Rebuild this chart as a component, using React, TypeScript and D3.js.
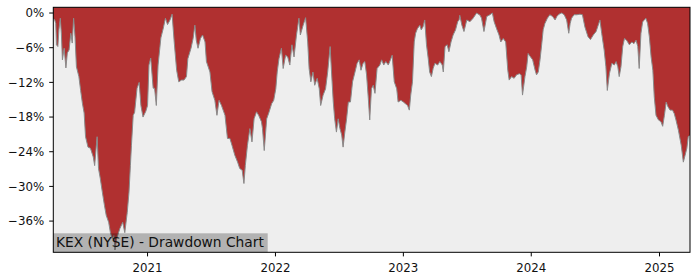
import React from "react";
import * as d3 from "d3";

const dates: string[] = [
  "2020-04-07","2020-04-11","2020-04-14","2020-04-16","2020-04-20","2020-04-23","2020-04-27","2020-04-30",
  "2020-05-03","2020-05-08","2020-05-13","2020-05-17","2020-05-22","2020-05-27","2020-05-31","2020-06-04",
  "2020-06-08","2020-06-12","2020-06-19","2020-06-24","2020-06-29","2020-07-04","2020-07-08","2020-07-15",
  "2020-07-22","2020-07-30","2020-08-03","2020-08-10","2020-08-14","2020-08-19","2020-08-25","2020-08-31",
  "2020-09-05","2020-09-12","2020-09-17","2020-09-22","2020-09-27","2020-09-30","2020-10-05","2020-10-14",
  "2020-10-22","2020-10-28","2020-11-04","2020-11-09","2020-11-13","2020-11-16","2020-11-21","2020-11-25",
  "2020-12-02","2020-12-08","2020-12-13","2020-12-19","2020-12-27",
  "2021-01-01","2021-01-05","2021-01-10","2021-01-17","2021-01-21","2021-01-26","2021-01-31","2021-02-08",
  "2021-02-15","2021-02-21","2021-02-27","2021-03-06","2021-03-12","2021-03-18","2021-03-25","2021-03-31",
  "2021-04-08","2021-04-15","2021-04-22","2021-04-26","2021-05-05","2021-05-11","2021-05-16","2021-05-20",
  "2021-05-25","2021-06-01","2021-06-07","2021-06-14","2021-06-18","2021-06-28","2021-07-04","2021-07-12",
  "2021-07-18","2021-07-24","2021-07-31","2021-08-10","2021-08-17","2021-08-24","2021-08-30","2021-09-07",
  "2021-09-15","2021-09-21","2021-09-28","2021-10-03","2021-10-07","2021-10-13","2021-10-20","2021-10-26",
  "2021-11-01","2021-11-08","2021-11-14","2021-11-22","2021-11-25","2021-11-30","2021-12-07","2021-12-14",
  "2021-12-21","2021-12-27",
  "2022-01-02","2022-01-06","2022-01-11","2022-01-18","2022-01-23","2022-01-30","2022-02-05","2022-02-11",
  "2022-02-17","2022-02-23","2022-03-02","2022-03-09","2022-03-13","2022-03-21","2022-03-28","2022-04-03",
  "2022-04-07","2022-04-12","2022-04-18","2022-04-23","2022-04-30","2022-05-06","2022-05-10","2022-05-17",
  "2022-05-24","2022-05-30","2022-06-06","2022-06-10","2022-06-15","2022-06-19","2022-06-24","2022-06-29",
  "2022-07-04","2022-07-09","2022-07-13","2022-07-18","2022-07-23","2022-07-28","2022-08-03","2022-08-09",
  "2022-08-16","2022-08-22","2022-08-28","2022-09-02","2022-09-08","2022-09-13","2022-09-18","2022-09-23",
  "2022-09-27","2022-10-02","2022-10-07","2022-10-12","2022-10-18","2022-10-26","2022-10-31","2022-11-06",
  "2022-11-12","2022-11-19","2022-11-25","2022-11-30","2022-12-06","2022-12-13","2022-12-17","2022-12-25",
  "2023-01-01","2023-01-07","2023-01-13","2023-01-18","2023-01-22","2023-01-27","2023-02-01","2023-02-05",
  "2023-02-10","2023-02-17","2023-02-21","2023-02-26","2023-03-03","2023-03-08","2023-03-13","2023-03-17",
  "2023-03-22","2023-03-27","2023-04-01","2023-04-09","2023-04-15","2023-04-22","2023-04-25","2023-04-30",
  "2023-05-06","2023-05-11","2023-05-17","2023-05-23","2023-05-30","2023-06-05","2023-06-09","2023-06-11",
  "2023-06-17","2023-06-23","2023-07-01","2023-07-10","2023-07-19","2023-07-29","2023-08-08","2023-08-12",
  "2023-08-19","2023-08-27","2023-09-05","2023-09-12","2023-09-17","2023-09-24","2023-10-01","2023-10-06",
  "2023-10-13","2023-10-20","2023-10-26","2023-10-30","2023-11-06","2023-11-13","2023-11-20","2023-11-28",
  "2023-12-03","2023-12-07","2023-12-14","2023-12-19","2023-12-23","2023-12-30",
  "2024-01-05","2024-01-12","2024-01-16","2024-01-21","2024-01-26","2024-01-31","2024-02-04","2024-02-09",
  "2024-02-16","2024-02-23","2024-03-02","2024-03-09","2024-03-14","2024-03-20","2024-03-28","2024-04-04",
  "2024-04-11","2024-04-17","2024-04-21","2024-04-25","2024-05-02","2024-05-10","2024-05-19","2024-05-26",
  "2024-06-02","2024-06-11","2024-06-18","2024-06-26","2024-07-04","2024-07-10","2024-07-15","2024-07-20",
  "2024-07-27","2024-08-01","2024-08-05","2024-08-11","2024-08-18","2024-08-25","2024-08-30","2024-09-04",
  "2024-09-08","2024-09-13","2024-09-18","2024-09-23","2024-09-29","2024-10-07","2024-10-14","2024-10-20",
  "2024-10-26","2024-10-31","2024-11-04","2024-11-09","2024-11-14","2024-11-19","2024-11-23","2024-11-28",
  "2024-12-03","2024-12-08","2024-12-13","2024-12-17","2024-12-22","2024-12-29",
  "2025-01-05","2025-01-10","2025-01-15","2025-01-20","2025-01-25","2025-01-31","2025-02-07","2025-02-12",
  "2025-02-17","2025-02-24","2025-03-04","2025-03-10","2025-03-15","2025-03-20","2025-03-24","2025-03-29"
];

const drawdown: number[] = [
  -0.9,-1.2,-1.8,-5.5,-5.8,-2.9,-0.9,-3.5,
  -8.1,-6.1,-9.5,-6.9,-6.4,-3.5,-5.2,-0.9,
  -4.1,-9.3,-11.0,-13.4,-15.6,-17.3,-21.4,-23.2,
  -23.4,-24.9,-26.4,-21.4,-26.9,-28.6,-31.0,-33.3,
  -35.0,-36.2,-38.0,-39.0,-38.5,-41.0,-39.0,-37.3,
  -36.2,-38.0,-34.5,-31.0,-26.4,-22.9,-17.7,-17.2,
  -13.0,-12.0,-16.0,-18.0,-17.0,
  -16.0,-9.0,-7.8,-13.0,-13.0,-16.0,-9.0,-4.3,
  -2.6,-0.9,-2.0,-1.2,-0.2,-5.0,-9.9,-11.9,
  -11.6,-11.6,-11.0,-7.9,-6.1,-4.4,-2.1,-4.7,
  -6.1,-4.4,-3.8,-5.0,-8.4,-10.2,-13.6,-15.1,
  -17.7,-15.1,-16.0,-17.7,-21.7,-21.7,-22.9,-24.6,
  -25.8,-26.9,-27.2,-29.5,-26.4,-22.9,-20.0,-22.3,
  -18.3,-17.1,-17.7,-18.8,-20.0,-23.8,-18.3,-17.1,
  -15.7,-15.1,
  -13.1,-10.2,-7.9,-6.1,-9.6,-7.3,-7.6,-9.0,
  -5.5,-7.6,-3.8,-0.9,-3.8,-2.1,-0.8,-5.0,
  -9.6,-11.9,-10.2,-12.5,-11.3,-13.1,-16.0,-14.2,
  -13.1,-10.2,-5.8,-10.2,-15.4,-18.3,-20.6,-18.3,
  -20.0,-21.1,-23.2,-20.6,-18.3,-15.4,-15.4,-11.9,
  -10.2,-8.7,-8.1,-9.9,-8.7,-8.4,-10.7,-14.8,
  -18.5,-13.1,-12.5,-13.9,-9.6,-9.0,-8.1,-9.0,
  -8.4,-9.0,-8.1,-7.3,-11.9,-13.1,-15.4,-15.1,
  -15.4,-15.7,-16.0,-16.8,-14.2,-11.9,-5.0,-3.5,
  -2.7,-2.1,-2.9,-2.4,-1.2,-5.5,-7.9,-10.2,
  -11.0,-9.6,-8.7,-9.0,-8.4,-9.0,-10.2,-5.8,
  -5.5,-6.7,-5.0,-3.8,-2.9,-1.5,-1.2,-0.4,
  -2.1,-3.2,-1.2,-1.5,-0.9,0.0,-0.4,-0.9,
  -3.2,-0.6,-0.3,0.0,-1.5,-2.7,-3.8,-5.0,
  -4.4,-5.0,-9.9,-11.6,-11.0,-11.3,-10.7,-10.5,
  -10.7,-14.2,-11.0,-9.3,-7.0,-7.6,
  -8.1,-9.9,-10.7,-10.2,-8.1,-5.3,-2.9,-1.8,
  -0.9,-0.3,-0.6,-1.2,-0.6,-0.2,0.0,-0.3,
  -1.2,-3.5,-1.8,-0.9,-0.3,-0.3,-0.2,-0.3,
  -2.4,-4.1,-4.6,-3.8,-3.2,-2.1,-1.2,-3.5,
  -6.4,-9.3,-13.4,-10.5,-8.7,-9.0,-8.4,-9.3,
  -11.0,-9.3,-5.8,-4.4,-4.7,-5.5,-5.0,-5.3,
  -4.7,-5.8,-9.6,-3.5,-1.5,-1.2,-0.9,-1.8,
  -4.1,-7.6,-9.9,-14.5,-17.7,-18.5,
  -18.8,-19.6,-17.7,-15.4,-16.2,-16.8,-16.8,-17.4,
  -18.5,-20.3,-22.9,-25.8,-24.6,-23.4,-21.4,-21.1
];

const yTicks: number[] = [0, -6, -12, -18, -24, -30, -36];
const xTickYears: number[] = [2021, 2022, 2023, 2024, 2025];
const title = "KEX (NYSE) - Drawdown Chart";

const W = 700, H = 280;
const L = 53.3, R = 690, T = 7.3, B = 252.3;
const Y_MIN = -41.4, Y_MAX = 0.99;
const FONT = "DejaVu Sans, sans-serif";

export default function App() {
  const parse = d3.timeParse("%Y-%m-%d");
  const data = dates.map((d, i) => ({ date: parse(d) as Date, v: drawdown[i] }));
  const x = d3.scaleTime()
    .domain(d3.extent(data, (d) => d.date) as [Date, Date])
    .range([L, R]);
  const y = d3.scaleLinear().domain([Y_MIN, Y_MAX]).range([B, T]);

  const area = d3.area<{ date: Date; v: number }>()
    .x((d) => x(d.date))
    .y0(() => y(Y_MAX))
    .y1((d) => y(d.v));
  const line = d3.line<{ date: Date; v: number }>()
    .x((d) => x(d.date))
    .y((d) => y(d.v));

  const fmt = (t: number) => (t < 0 ? "\u2212" + Math.abs(t) : String(t)) + "%";

  return (
    <svg width={W} height={H} style={{ position: "absolute", left: 0, top: 0, background: "#fff" }}>
      <rect x={L} y={T} width={R - L} height={B - T} fill="#eeeeee" />
      <path d={area(data) || ""} fill="#b03030" />
      <path d={line(data) || ""} fill="none" stroke="#8a8a8a" strokeWidth={1} />
      <rect x={L} y={233.3} width={267.7 - L} height={B - 233.3} fill="#000" fillOpacity={0.25} />
      <text x={56} y={246.8} fontFamily={FONT} fontSize={13.8} fill="#111">{title}</text>
      <rect x={L} y={T} width={R - L} height={B - T} fill="none" stroke="#000" strokeWidth={1} />
      {yTicks.map((t) => (
        <g key={t}>
          <line x1={L - 4.1} x2={L} y1={y(t)} y2={y(t)} stroke="#000" strokeWidth={1} />
          <text x={44.2} y={y(t)} dy="0.36em" textAnchor="end" fontFamily={FONT} fontSize={11.8} fill="#111">{fmt(t)}</text>
        </g>
      ))}
      {xTickYears.map((yr) => {
        const px = x(new Date(yr, 0, 1));
        return (
          <g key={yr}>
            <line x1={px} x2={px} y1={B} y2={B + 4.1} stroke="#000" strokeWidth={1} />
            <text x={px} y={271.5} textAnchor="middle" fontFamily={FONT} fontSize={11.8} fill="#111">{yr}</text>
          </g>
        );
      })}
    </svg>
  );
}
